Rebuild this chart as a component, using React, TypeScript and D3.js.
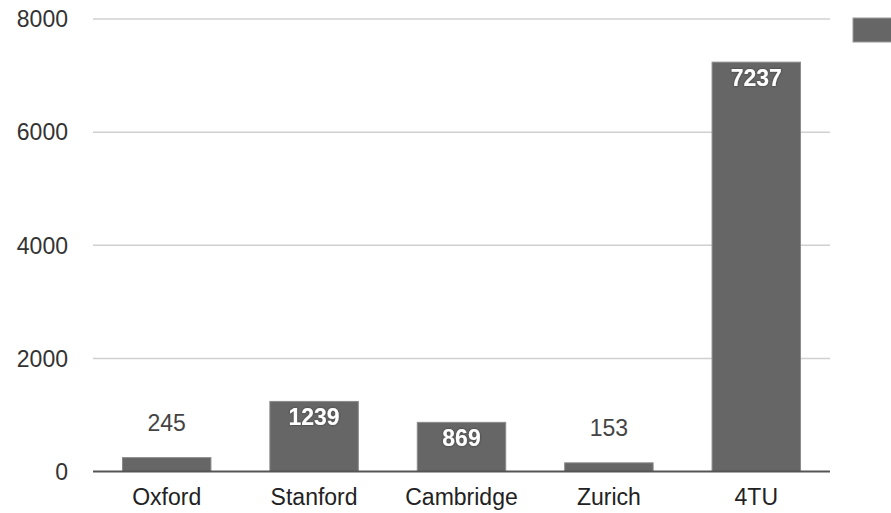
import React from "react";
import * as d3 from "d3";

const categories = ["Oxford", "Stanford", "Cambridge", "Zurich", "4TU"];
const values = [245, 1239, 869, 153, 7237];
const yTicks = [0, 2000, 4000, 6000, 8000];

const W = 891;
const H = 513;
const FONT = "'Liberation Sans', Arial, Helvetica, sans-serif";
const FS = 23;

export default function App() {
  const x = d3.scaleBand<string>().domain(categories).range([93, 830]).paddingInner(0.4).paddingOuter(0.2);
  const y = d3.scaleLinear().domain([0, 8000]).range([471.5, 19]);
  const y0 = y(0);

  return (
    <svg width={W} height={H} style={{ position: "absolute", left: 0, top: 0, background: "#fff" }} fontFamily={FONT}>
      <defs>
        <filter id="sh" x="-20%" y="-20%" width="140%" height="140%">
          <feDropShadow dx="0" dy="0" stdDeviation="1" floodColor="#333" floodOpacity="0.9" />
        </filter>
      </defs>
      {yTicks.map((t) => (
        <g key={t}>
          {t !== 0 && <line x1={93} x2={830} y1={y(t)} y2={y(t)} stroke="#d0d0d0" strokeWidth={1.5} />}
          <text x={68} y={y(t)} dy="0.36em" textAnchor="end" fontSize={FS} fill="#333">
            {t}
          </text>
        </g>
      ))}
      {categories.map((c, i) => {
        const v = values[i];
        const bx = x(c)!;
        const bw = x.bandwidth();
        const top = y(v);
        const inside = y0 - top > 40;
        return (
          <g key={c}>
            <rect x={bx} y={top} width={bw} height={y0 - top} fill="#666" stroke="#8a8a8a" strokeWidth={1} />
            {inside ? (
              <text x={bx + bw / 2} y={top + 24} textAnchor="middle" fontSize={FS} fontWeight="bold" fill="#fff" filter="url(#sh)">
                {v}
              </text>
            ) : (
              <text x={bx + bw / 2} y={top - 27} textAnchor="middle" fontSize={FS} fill="#444">
                {v}
              </text>
            )}
            <text x={bx + bw / 2} y={505} textAnchor="middle" fontSize={FS} fill="#222">
              {c}
            </text>
          </g>
        );
      })}
      <line x1={93} x2={830} y1={y0} y2={y0} stroke="#555" strokeWidth={2} />
      <rect x={853} y={18} width={50} height={24} fill="#666" stroke="#999" strokeWidth={1} />
    </svg>
  );
}
